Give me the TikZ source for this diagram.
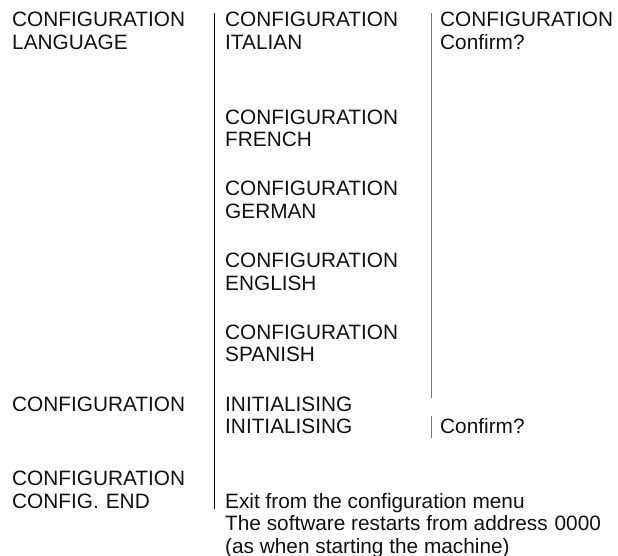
\documentclass[tikz,border=0pt]{standalone}
\usepackage{fontspec}
\setmainfont{Liberation Sans}
\usetikzlibrary{positioning}
\definecolor{Ink}{HTML}{111111}
\definecolor{Rule}{HTML}{7A7A7A}
\tikzset{
  entry/.style={anchor=base west, inner sep=0pt, align=left, font=\fontsize{20.8}{22.5}\selectfont, text=Ink},
  rule/.style={draw=black, line width=1pt},
  greyrule/.style={draw=Rule, line width=1pt}
}

\begin{document}
\begin{tikzpicture}[x=1pt,y=-1pt]
\useasboundingbox (0,0) rectangle (618,556);
% first column (nodes sit on the baseline of their last line)
\node[entry] (lang) at (12,49.5) {CONFIGURATION\\LANGUAGE};
\node[entry] (init) at (12,411) {CONFIGURATION};
\node[entry] (cend) at (12,508) {CONFIGURATION\\CONFIG.\hspace{7pt}END};
% second column
\node[entry] (ital) at (225,49.5) {CONFIGURATION\\ITALIAN};
\foreach \n/\lang/\y in {fr/FRENCH/147, ger/GERMAN/218.5, eng/ENGLISH/290, spa/SPANISH/361.5}
  \node[entry] (\n) at (225,\y) {CONFIGURATION\\\lang};
\node[entry] (ini) at (225,433.5) {INITIALISING\\INITIALISING};
\node[entry] (exit) at (225,553) {Exit from the configuration menu\\The software restarts from address\hspace{7pt}0000\\(as when starting the machine)};
% third column
\node[entry] (conf) at (440,49.5) {CONFIGURATION\\Confirm?};
\node[entry] (conf2) at (440,433.5) {Confirm?};
% separators
\coordinate (s1top) at (214,13);
\coordinate (s1bot) at (214,509);
\coordinate (s2top) at (431,13);
\coordinate (s2bot) at (431,398);
\coordinate (s3top) at (431,416);
\coordinate (s3bot) at (431,438);
\draw[rule] (s1top) -- (s1bot);
\draw[greyrule] (s2top) -- (s2bot);
\draw[greyrule] (s3top) -- (s3bot);
\end{tikzpicture}
\end{document}
